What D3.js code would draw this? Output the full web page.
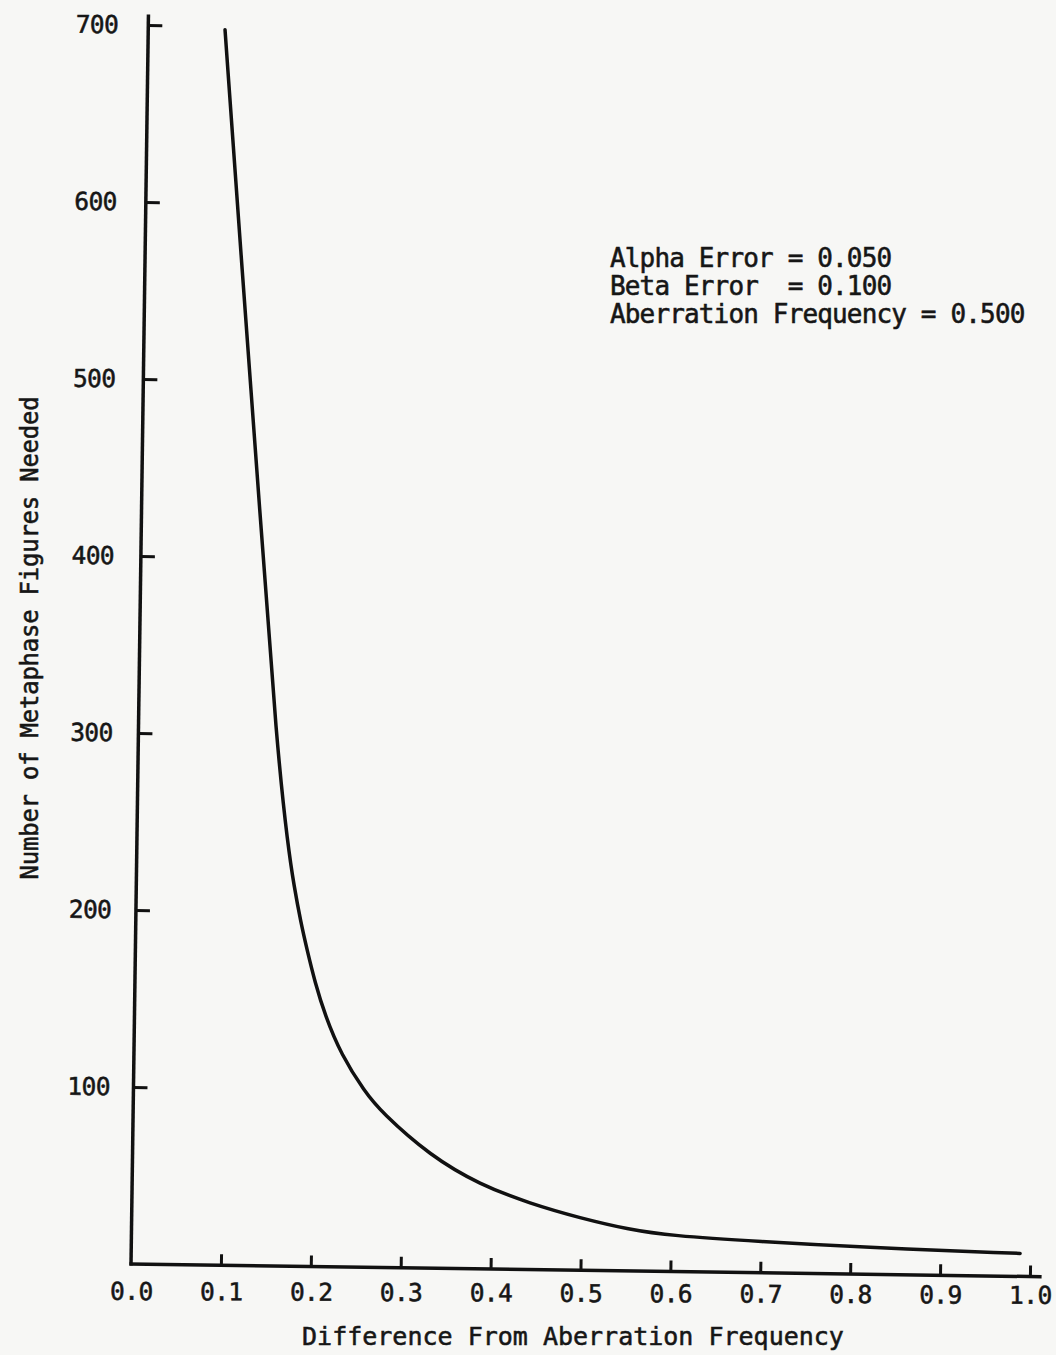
<!DOCTYPE html>
<html>
<head>
<meta charset="utf-8">
<script src="https://cdn.jsdelivr.net/npm/d3@7"></script>
<style>
  html, body { margin: 0; padding: 0; background: #f7f7f5; }
  svg { display: block; }
  text { font-family: "DejaVu Sans Mono", "Liberation Mono", monospace; fill: #161616; stroke: #161616; stroke-width: 0.55px; }
</style>
</head>
<body>
<script>
// ---- data ----
const xTickValues = [0.0, 0.1, 0.2, 0.3, 0.4, 0.5, 0.6, 0.7, 0.8, 0.9, 1.0];
const xTickLabels = ["0.0", "0.1", "0.2", "0.3", "0.4", "0.5", "0.6", "0.7", "0.8", "0.9", "1.0"];
const yTickValues = [100, 200, 300, 400, 500, 600, 700];
const yTickLabels = ["100", "200", "300", "400", "500", "600", "700"];
const difference = [0.0854, 0.108, 0.1316, 0.1544, 0.1682, 0.1754, 0.1837, 0.1909, 0.2003, 0.212, 0.2304, 0.2575, 0.2757, 0.3309, 0.387, 0.4429, 0.4988, 0.5545, 0.5991, 0.6993, 0.8107, 0.9887];
const figuresNeeded = [698, 563, 427, 292, 237, 215, 194, 179, 160.5, 142, 120, 99, 88, 63.5, 47.5, 37.3, 29.5, 23.3, 20.3, 17.6, 15.2, 13.0];
const annotationLines = ["Alpha Error = 0.050", "Beta Error  = 0.100", "Aberration Frequency = 0.500"];
const xTitle = "Difference From Aberration Frequency";
const yTitle = "Number of Metaphase Figures Needed";

// ---- layout ----
const W = 1056, H = 1355;
const ox = 131, oy = 1264;     // plot origin
const plotW = 899, plotH = 1239;
const tilt = 0.8;              // the scanned page is slightly rotated
const tiltXLab = 0.25, tiltYLab = 0.45;

const svg = d3.select("body").append("svg").attr("width", W).attr("height", H);
svg.append("rect").attr("width", W).attr("height", H).attr("fill", "#f7f7f5");

const x = d3.scaleLinear().domain([0, 1]).range([ox, ox + plotW]);
const y = d3.scaleLinear().domain([0, 700]).range([oy, oy - plotH]);

const g = svg.append("g").attr("transform", `rotate(${tilt},${ox},${oy})`);

// axis lines
g.append("line").attr("x1", x(0)).attr("x2", x(0)).attr("y1", y(0) + 1.5).attr("y2", y(706))
  .attr("stroke", "#111").attr("stroke-width", 3.5);
g.append("line").attr("x1", x(0) - 1.5).attr("x2", x(1.013)).attr("y1", y(0)).attr("y2", y(0))
  .attr("stroke", "#111").attr("stroke-width", 3.5);

// x axis tick marks
const gx = g.append("g").attr("transform", `translate(0,${oy})`)
  .call(d3.axisBottom(x).tickValues(xTickValues.filter(d => d > 0)).tickFormat("").tickSize(-11).tickSizeOuter(0));
gx.select(".domain").remove();
gx.selectAll(".tick line").attr("stroke", "#111").attr("stroke-width", 3);

// y axis tick marks
const gy = g.append("g").attr("transform", `translate(${ox},0)`)
  .call(d3.axisLeft(y).tickValues(yTickValues).tickFormat("").tickSize(-14).tickSizeOuter(0));
gy.select(".domain").remove();
gy.selectAll(".tick line").attr("stroke", "#111").attr("stroke-width", 3);

// tick labels (typed separately on the original, so tilted a little less)
const gxl = svg.append("g").attr("transform", `rotate(${tiltXLab},${ox},${oy}) translate(0,${oy})`)
  .call(d3.axisBottom(x).tickValues(xTickValues).tickFormat((d, i) => xTickLabels[i]).tickSize(0).tickPadding(18.5));
gxl.select(".domain").remove();
gxl.selectAll(".tick text").attr("font-size", 24.5).attr("letter-spacing", -0.6)
  .attr("font-family", '"DejaVu Sans Mono", monospace').attr("fill", "#161616");

const gyl = svg.append("g").attr("transform", `rotate(${tiltYLab},${ox},${oy}) translate(${ox},0)`)
  .call(d3.axisLeft(y).tickValues(yTickValues).tickFormat((d, i) => yTickLabels[i]).tickSize(0).tickPadding(22.5));
gyl.select(".domain").remove();
gyl.selectAll(".tick text").attr("font-size", 24.5).attr("letter-spacing", -0.6)
  .attr("font-family", '"DejaVu Sans Mono", monospace').attr("fill", "#161616");

// curve
const pts = difference.map((d, i) => [d, figuresNeeded[i]]);
const line = d3.line().x(d => x(d[0])).y(d => y(d[1])).curve(d3.curveBasis);
g.append("path").datum(pts).attr("d", line)
  .attr("fill", "none").attr("stroke", "#111").attr("stroke-width", 3.5)
  .attr("stroke-linecap", "round");

// annotation
const ann = svg.append("text").attr("font-size", 26).attr("letter-spacing", -0.85);
annotationLines.forEach((t, i) => {
  ann.append("tspan").attr("x", 610).attr("y", 267 + i * 28)
    .style("white-space", "pre").text(t);
});

// axis titles
svg.append("text").attr("x", 573).attr("y", 1345).attr("text-anchor", "middle")
  .attr("font-size", 25).text(xTitle);
svg.append("text").attr("transform", "translate(38,638) rotate(-90)")
  .attr("text-anchor", "middle").attr("font-size", 24).attr("letter-spacing", -0.25).text(yTitle);
</script>
</body>
</html>
